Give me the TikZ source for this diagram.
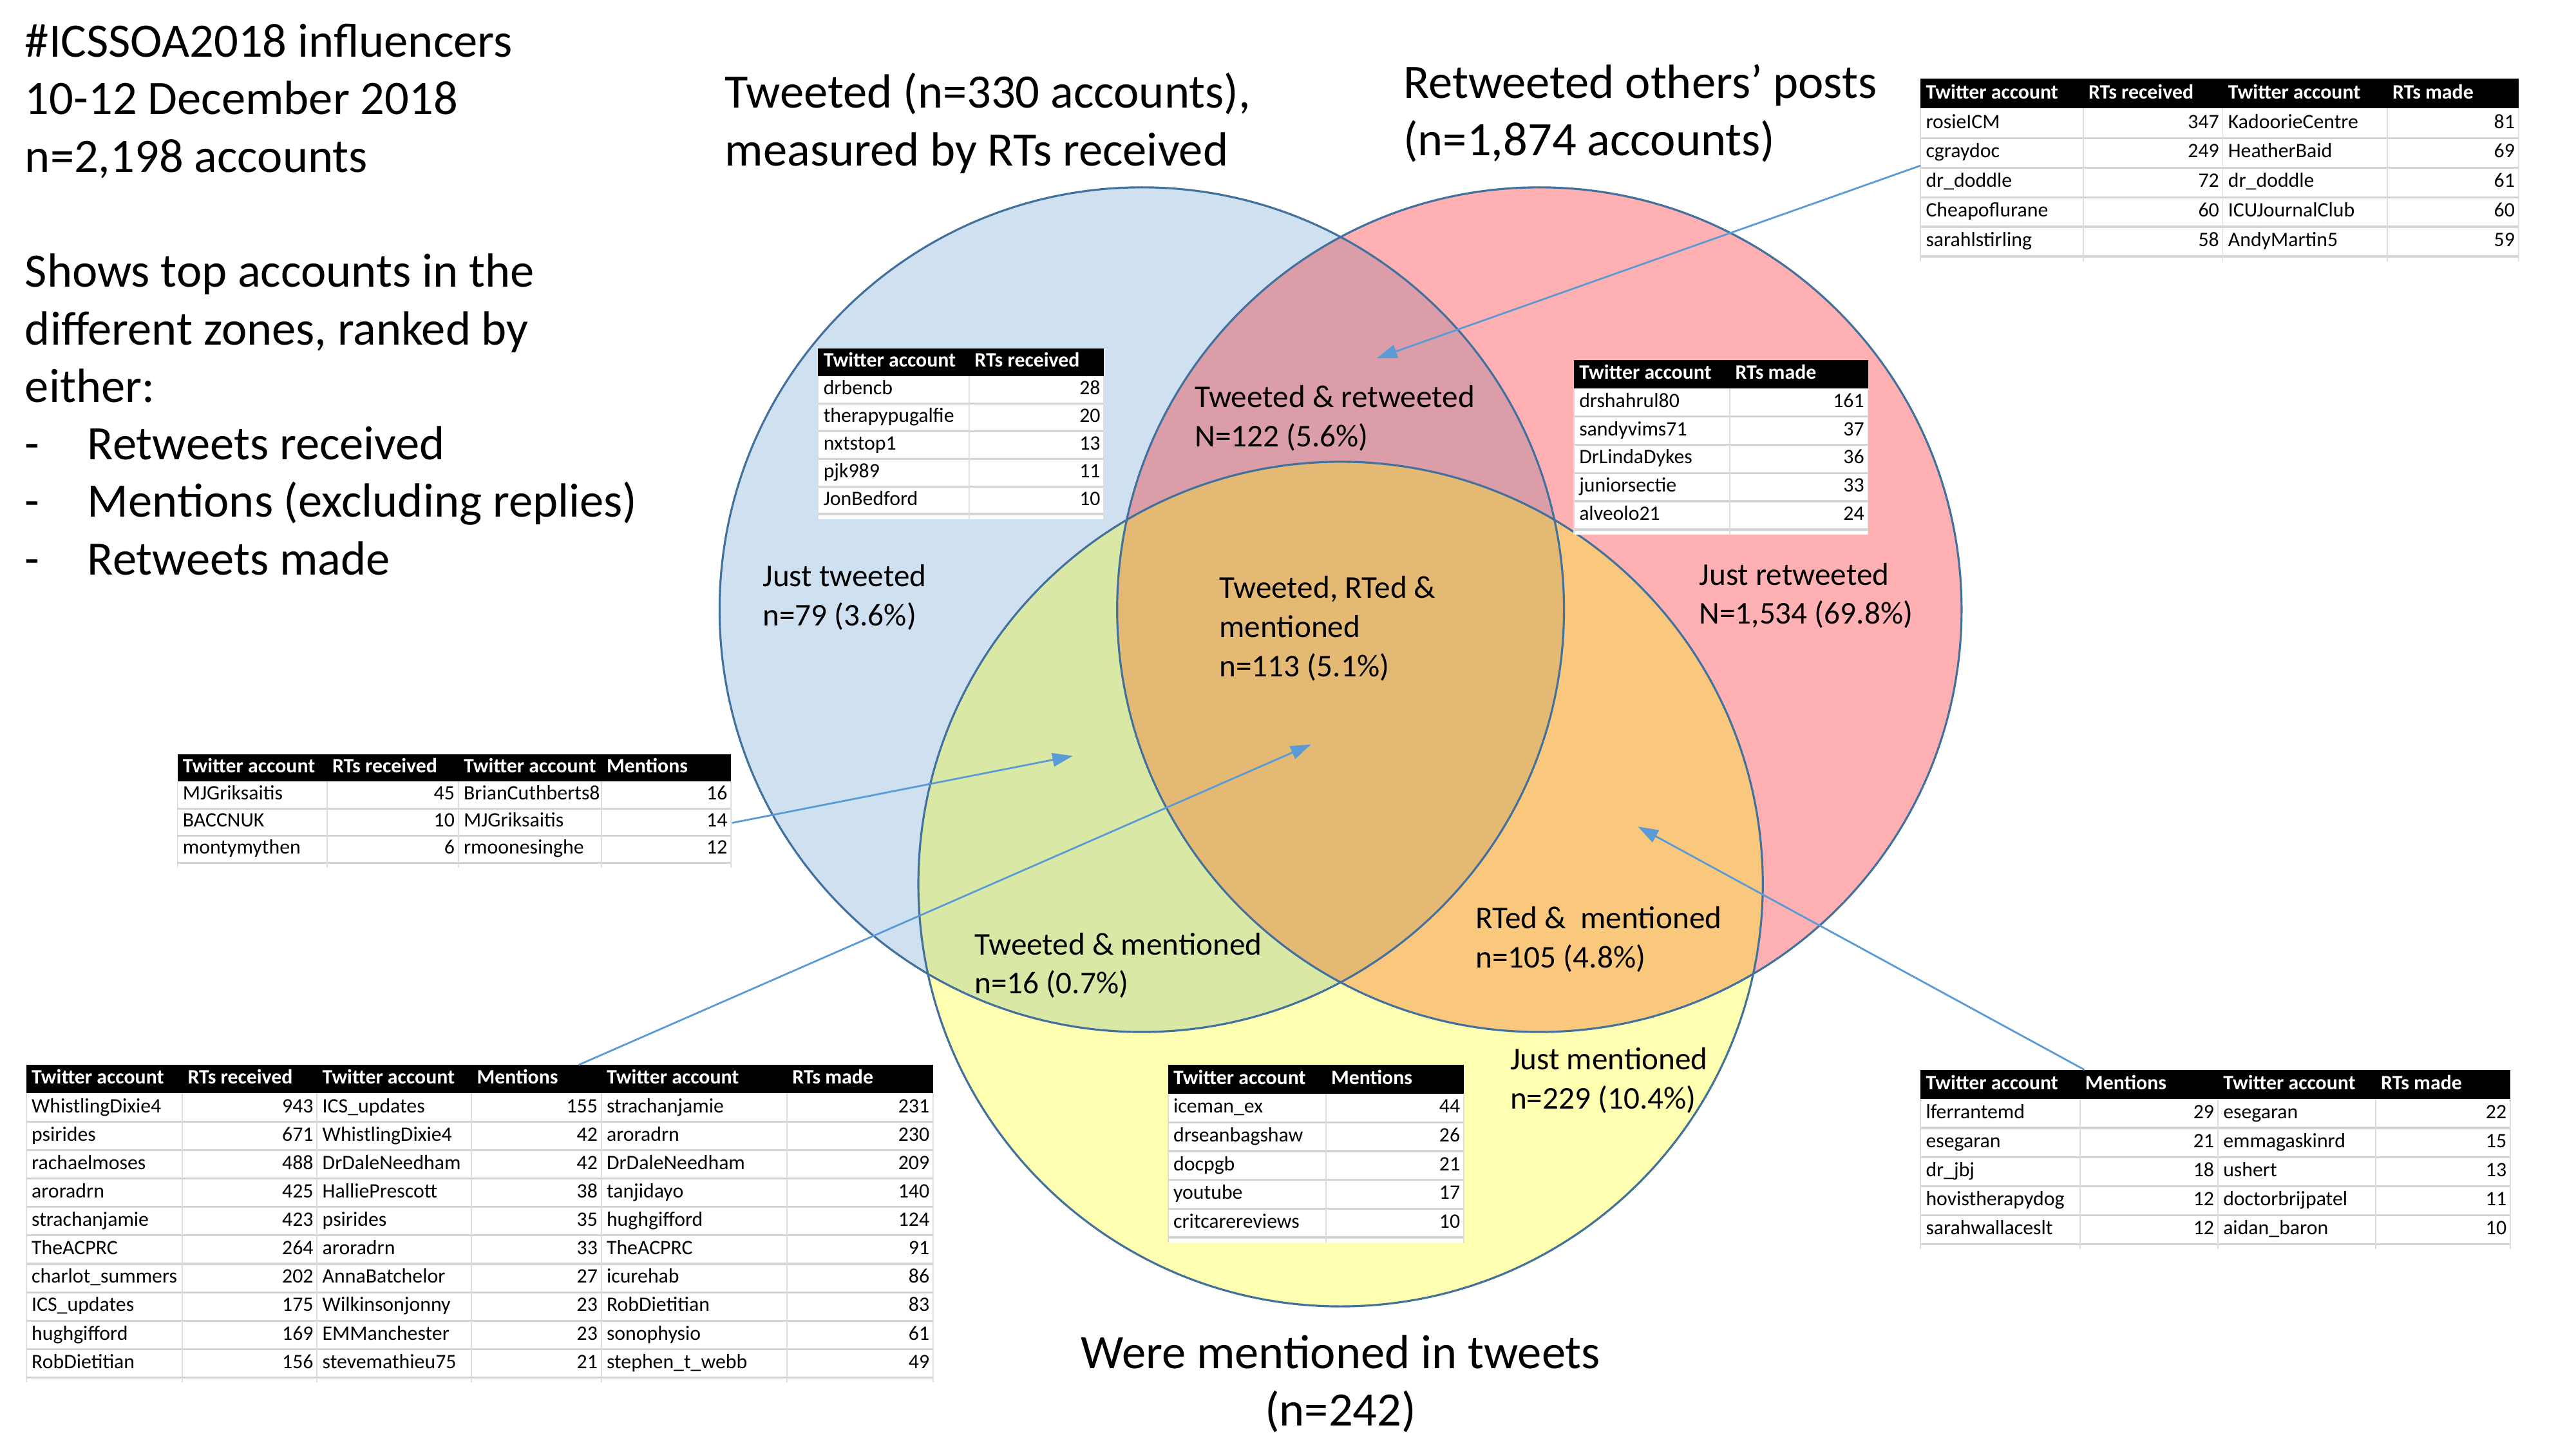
\documentclass[tikz,border=0pt]{standalone}
\usepackage{fontspec}
\setmainfont{Carlito}
\usetikzlibrary{arrows.meta,calc}

\newlength\pxu
\setlength\pxu{0.2551mm}

\definecolor{twblue}{RGB}{207,224,241}
\definecolor{twred}{RGB}{255,176,178}
\definecolor{twyellow}{RGB}{255,255,178}
\definecolor{twmauve}{RGB}{219,157,168}
\definecolor{twgreen}{RGB}{218,232,166}
\definecolor{tworange}{RGB}{250,200,125}
\definecolor{twcore}{RGB}{228,185,116}
\definecolor{twedge}{RGB}{65,113,156}
\definecolor{twarrow}{RGB}{91,155,213}
\definecolor{gridgrey}{RGB}{212,212,212}

\newcommand\bigtext{\fontsize{21.2}{25.4}\selectfont}
\newcommand\zonetext{\fontsize{14}{17.3}\selectfont}
\newcommand\celltext{\fontsize{9.05}{10.8}\selectfont}

% table frame: name, width, row height, rows, inner column lines
\newcommand\tabframe[5]{%
  \node[tabbox, minimum width=#2\pxu, minimum height={((#4+1)*#3+3)*\pxu}] (#1) at (0,0) {};
  \fill[black] (0,0) rectangle (#2,#3);
  \foreach \rw in {1,...,#4}
    \draw[rowline] (0,{(\rw+1)*#3}) -- (#2,{(\rw+1)*#3});
  \foreach \cl in {0,#5,#2}
    \draw[colline] (\cl,#3) -- (\cl,{(#4+1)*#3+3});
}

\begin{document}
\begin{tikzpicture}[x=0.2551mm, y=-0.2551mm,
  vennline/.style={draw=twedge, line width=0.9pt},
  label/.style={inner sep=0, anchor=north west, align=left},
  tabbox/.style={rectangle, fill=white, inner sep=0, anchor=north west},
  rowline/.style={draw=gridgrey, line width=0.9pt},
  colline/.style={draw=gridgrey!80, line width=0.5pt},
  head/.style={inner sep=0, anchor=west, text=white, font=\celltext\bfseries, text height=6.4pt, text depth=2pt},
  cell/.style={inner sep=0, anchor=west, font=\celltext, text height=6.4pt, text depth=2pt},
  num/.style={cell, anchor=east},
  conn/.style={draw=twarrow, line width=0.8pt, -{Triangle[length=9pt,width=6pt]}}]

\useasboundingbox (0,0) rectangle (1568,882);

% circles
\coordinate (cB) at (695,371);
\coordinate (cR) at (937,371);
\coordinate (cY) at (816,538);

\fill[twblue] (cB) circle (257);
\fill[twred] (cR) circle (257);
\fill[twyellow] (cY) circle (257);
\begin{scope}
  \clip (cB) circle (257);
  \fill[twmauve] (cR) circle (257);
  \fill[twgreen] (cY) circle (257);
\end{scope}
\begin{scope}
  \clip (cR) circle (257);
  \fill[tworange] (cY) circle (257);
\end{scope}
\begin{scope}
  \clip (cB) circle (257);
  \clip (cR) circle (257);
  \fill[twcore] (cY) circle (257);
\end{scope}
\draw[vennline] (cB) circle (257);
\draw[vennline] (cR) circle (257);
\draw[vennline] (cY) circle (257);

% headings
\node[label, font=\bigtext] (intro) at (15,10) {\strut\#ICSSOA2018 influencers\\10-12 December 2018\\n=2,198 accounts\\[25.4pt]
  Shows top accounts in the\\different zones, ranked by\\either:\\
  \makebox[38\pxu][l]{-}Retweets received\\
  \makebox[38\pxu][l]{-}Mentions (excluding replies)\\
  \makebox[38\pxu][l]{-}Retweets made};
\node[label, font=\bigtext] (tweetedHead) at (441,41) {\strut Tweeted (n=330 accounts),\\measured by RTs received};
\node[label, font=\bigtext] (retweetedHead) at (854,35) {\strut Retweeted others’ posts\\(n=1,874 accounts)};
\node[label, font=\bigtext, anchor=north, align=center] (mentionedHead) at (816,808) {\strut Were mentioned in tweets\\(n=242)};

% zone labels
\node[label, font=\zonetext] (justT) at (464,340) {\strut Just tweeted\\n=79 (3.6\%)};
\node[label, font=\zonetext] (bothTR) at (727,231) {\strut Tweeted \& retweeted\\N=122 (5.6\%)};
\node[label, font=\zonetext] (allThree) at (742,347) {\strut Tweeted, RTed \&\\mentioned\\n=113 (5.1\%)};
\node[label, font=\zonetext] (justR) at (1034,339) {\strut Just retweeted\\N=1,534 (69.8\%)};
\node[label, font=\zonetext] (bothTM) at (593,564) {\strut Tweeted \& mentioned\\n=16 (0.7\%)};
\node[label, font=\zonetext] (bothRM) at (898,548) {\strut RTed \& \ mentioned\\n=105 (4.8\%)};
\node[label, font=\zonetext] (justM) at (919,634) {\strut Just mentioned\\n=229 (10.4\%)};

% table: tweeted & retweeted
\begin{scope}[shift={(1169,48)}]
  \tabframe{tabRT}{364}{18}{5}{99,184,284}
  \foreach \h/\x [count=\j] in {Twitter account/3, RTs received/102, Twitter account/187, RTs made/287}
    \node[head] (tabRT-h\j) at (\x,9) {\h};
  \foreach \a/\b/\c/\d [count=\i] in {rosieICM/347/KadoorieCentre/81, cgraydoc/249/HeatherBaid/69,
      dr\_doddle/72/dr\_doddle/61, Cheapoflurane/60/ICUJournalClub/60, sarahlstirling/58/AndyMartin5/59}{
    \node[cell] (tabRT-\i-1) at (3,{18*\i+9}) {\a};
    \node[num]  (tabRT-\i-2) at (182,{18*\i+9}) {\b};
    \node[cell] (tabRT-\i-3) at (187,{18*\i+9}) {\c};
    \node[num]  (tabRT-\i-4) at (362,{18*\i+9}) {\d};
  }
\end{scope}

% table: just tweeted
\begin{scope}[shift={(498,212)}]
  \tabframe{tabT}{174}{16.8}{5}{92}
  \node[head] (tabT-h1) at (3,8.4) {Twitter account};
  \node[head] (tabT-h2) at (95,8.4) {RTs received};
  \foreach \a/\b [count=\i] in {drbencb/28, therapypugalfie/20, nxtstop1/13, pjk989/11, JonBedford/10}{
    \node[cell] (tabT-\i-1) at (3,{16.8*\i+8.4}) {\a};
    \node[num]  (tabT-\i-2) at (172,{16.8*\i+8.4}) {\b};
  }
\end{scope}

% table: just retweeted
\begin{scope}[shift={(958,219)}]
  \tabframe{tabR}{179}{17.2}{5}{95}
  \node[head] (tabR-h1) at (3,8.6) {Twitter account};
  \node[head] (tabR-h2) at (98,8.6) {RTs made};
  \foreach \a/\b [count=\i] in {drshahrul80/161, sandyvims71/37, DrLindaDykes/36, juniorsectie/33, alveolo21/24}{
    \node[cell] (tabR-\i-1) at (3,{17.2*\i+8.6}) {\a};
    \node[num]  (tabR-\i-2) at (177,{17.2*\i+8.6}) {\b};
  }
\end{scope}

% table: tweeted & mentioned
\begin{scope}[shift={(108,459)}]
  \tabframe{tabTM}{337}{16.5}{3}{91,171,258}
  \foreach \h/\x [count=\j] in {Twitter account/3, RTs received/94, Twitter account/174, Mentions/261}
    \node[head] (tabTM-h\j) at (\x,8.25) {\h};
  \foreach \a/\b/\c/\d [count=\i] in {MJGriksaitis/45/BrianCuthberts8/16, BACCNUK/10/MJGriksaitis/14,
      montymythen/6/rmoonesinghe/12}{
    \node[cell] (tabTM-\i-1) at (3,{16.5*\i+8.25}) {\a};
    \node[num]  (tabTM-\i-2) at (169,{16.5*\i+8.25}) {\b};
    \node[cell] (tabTM-\i-3) at (174,{16.5*\i+8.25}) {\c};
    \node[num]  (tabTM-\i-4) at (335,{16.5*\i+8.25}) {\d};
  }
\end{scope}

% table: all three
\begin{scope}[shift={(16,648)}]
  \tabframe{tabAll}{552}{17.3}{10}{95,177,271,350,463}
  \foreach \h/\x [count=\j] in {Twitter account/3, RTs received/98, Twitter account/180, Mentions/274,
      Twitter account/353, RTs made/466}
    \node[head] (tabAll-h\j) at (\x,8.65) {\h};
  \foreach \a/\b/\c/\d/\e/\f [count=\i] in {
      WhistlingDixie4/943/ICS\_updates/155/strachanjamie/231,
      psirides/671/WhistlingDixie4/42/aroradrn/230,
      rachaelmoses/488/DrDaleNeedham/42/DrDaleNeedham/209,
      aroradrn/425/HalliePrescott/38/tanjidayo/140,
      strachanjamie/423/psirides/35/hughgifford/124,
      TheACPRC/264/aroradrn/33/TheACPRC/91,
      charlot\_summers/202/AnnaBatchelor/27/icurehab/86,
      ICS\_updates/175/Wilkinsonjonny/23/RobDietitian/83,
      hughgifford/169/EMManchester/23/sonophysio/61,
      RobDietitian/156/stevemathieu75/21/stephen\_t\_webb/49}{
    \node[cell] (tabAll-\i-1) at (3,{17.3*\i+8.65}) {\a};
    \node[num]  (tabAll-\i-2) at (175,{17.3*\i+8.65}) {\b};
    \node[cell] (tabAll-\i-3) at (180,{17.3*\i+8.65}) {\c};
    \node[num]  (tabAll-\i-4) at (348,{17.3*\i+8.65}) {\d};
    \node[cell] (tabAll-\i-5) at (353,{17.3*\i+8.65}) {\e};
    \node[num]  (tabAll-\i-6) at (550,{17.3*\i+8.65}) {\f};
  }
\end{scope}

% table: just mentioned
\begin{scope}[shift={(711,648)}]
  \tabframe{tabM}{180}{17.5}{5}{96}
  \node[head] (tabM-h1) at (3,8.75) {Twitter account};
  \node[head] (tabM-h2) at (99,8.75) {Mentions};
  \foreach \a/\b [count=\i] in {iceman\_ex/44, drseanbagshaw/26, docpgb/21, youtube/17, critcarereviews/10}{
    \node[cell] (tabM-\i-1) at (3,{17.5*\i+8.75}) {\a};
    \node[num]  (tabM-\i-2) at (178,{17.5*\i+8.75}) {\b};
  }
\end{scope}

% table: retweeted & mentioned
\begin{scope}[shift={(1169,651)}]
  \tabframe{tabRM}{359}{17.7}{5}{97,181,277}
  \foreach \h/\x [count=\j] in {Twitter account/3, Mentions/100, Twitter account/184, RTs made/280}
    \node[head] (tabRM-h\j) at (\x,8.85) {\h};
  \foreach \a/\b/\c/\d [count=\i] in {lferrantemd/29/esegaran/22, esegaran/21/emmagaskinrd/15,
      dr\_jbj/18/ushert/13, hovistherapydog/12/doctorbrijpatel/11, sarahwallaceslt/12/aidan\_baron/10}{
    \node[cell] (tabRM-\i-1) at (3,{17.7*\i+8.85}) {\a};
    \node[num]  (tabRM-\i-2) at (179,{17.7*\i+8.85}) {\b};
    \node[cell] (tabRM-\i-3) at (184,{17.7*\i+8.85}) {\c};
    \node[num]  (tabRM-\i-4) at (357,{17.7*\i+8.85}) {\d};
  }
\end{scope}

% pointers
\coordinate (tipTR) at (838,218);
\coordinate (tipTM) at (653,460);
\coordinate (tipAll) at (798,453);
\coordinate (tipRM) at (997,503);

\draw[conn] ($(tabRT.west)+(0,-3)$) -- (tipTR);
\draw[conn] ($(tabTM.east)+(0,7)$) -- (tipTM);
\draw[conn] ($(tabAll.north)+(60,0)$) -- (tipAll);
\draw[conn] ($(tabRM.north)+(-80,0)$) -- (tipRM);
\end{tikzpicture}
\end{document}
